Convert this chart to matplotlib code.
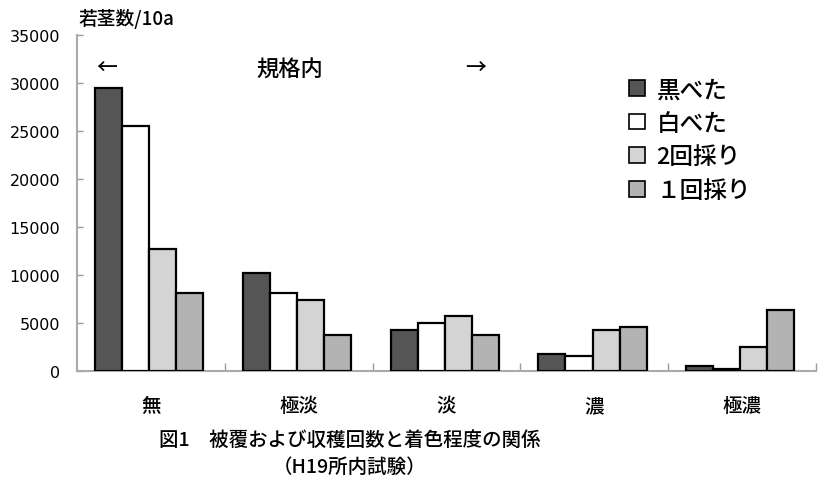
import matplotlib
matplotlib.use("Agg")
import matplotlib.pyplot as plt
from matplotlib.patches import Patch
import numpy as np

plt.rcParams['font.family'] = ['Noto Sans CJK JP', 'DejaVu Sans']
plt.rcParams['font.weight'] = 'medium'

categories = ['無', '極淡', '淡', '濃', '極濃']
series_names = ['黒べた', '白べた', '2回採り', '１回採り']
black_beta = [29500, 10200, 4300, 1800, 500]
white_beta = [25500, 8100, 5000, 1600, 200]
two_harvest = [12700, 7400, 5700, 4300, 2500]
one_harvest = [8100, 3700, 3700, 4600, 6400]
yticks = [0, 5000, 10000, 15000, 20000, 25000, 30000, 35000]

series = [black_beta, white_beta, two_harvest, one_harvest]
colors = ['#555555', '#ffffff', '#d4d4d4', '#b3b3b3']

fig = plt.figure(figsize=(8.27, 4.89), dpi=100)
ax = fig.add_axes([77/827, 1-372/489, (816-77)/827, (372-36)/489])

x = np.arange(len(categories))
w = 0.183
for i, (vals, c) in enumerate(zip(series, colors)):
    ax.bar(x + (i - 1.5) * w - 0.012, vals, width=w, color=c,
           edgecolor='black', linewidth=1.6, label=series_names[i], zorder=3)

ax.set_xlim(-0.5, 4.5)
ax.set_ylim(0, 35000)
ax.set_yticks(yticks)
ax.set_yticklabels([str(v) for v in yticks], fontfamily='DejaVu Sans', fontsize=11.5, fontweight='normal')
ax.set_xticks(x)
ax.set_xticklabels(categories, fontsize=14)
ax.tick_params(axis='x', length=0, pad=18)
ax.set_xticks(np.arange(0.5, 4.6, 1.0), minor=True)
ax.tick_params(axis='x', which='minor', direction='in', length=6, color='#999999', width=1)
ax.tick_params(axis='y', direction='in', length=4, color='#999999', width=1, pad=12)

for s in ['top', 'right']:
    ax.spines[s].set_visible(False)
for s in ['left', 'bottom']:
    ax.spines[s].set_color('#aaaaaa')
    ax.spines[s].set_linewidth(1.5)

fig.text(78/827, 1-19/489, '若茎数/10a', fontsize=13.5, va='center', ha='left')
fig.text(107/827, 1-68/489, '←', fontsize=15, va='center', ha='center')
fig.text(290/827, 1-70/489, '規格内', fontsize=16, va='center', ha='center')
fig.text(476/827, 1-68/489, '→', fontsize=15, va='center', ha='center')

handles = [Patch(facecolor=c, edgecolor='black', linewidth=1.2) for c in colors]
fig.legend(handles, series_names, loc='upper left', bbox_to_anchor=(608/827, 1-58/489),
           frameon=False, fontsize=17, handlelength=0.65, handleheight=0.65,
           handletextpad=0.5, labelspacing=0.45, borderpad=0.4)

fig.text(350/827, 1-440/489, '図1　被覆および収穫回数と着色程度の関係', fontsize=14, va='center', ha='center')
fig.text(350/827, 1-467/489, '（H19所内試験）', fontsize=14, va='center', ha='center')

fig.savefig('out.png', dpi=100)
